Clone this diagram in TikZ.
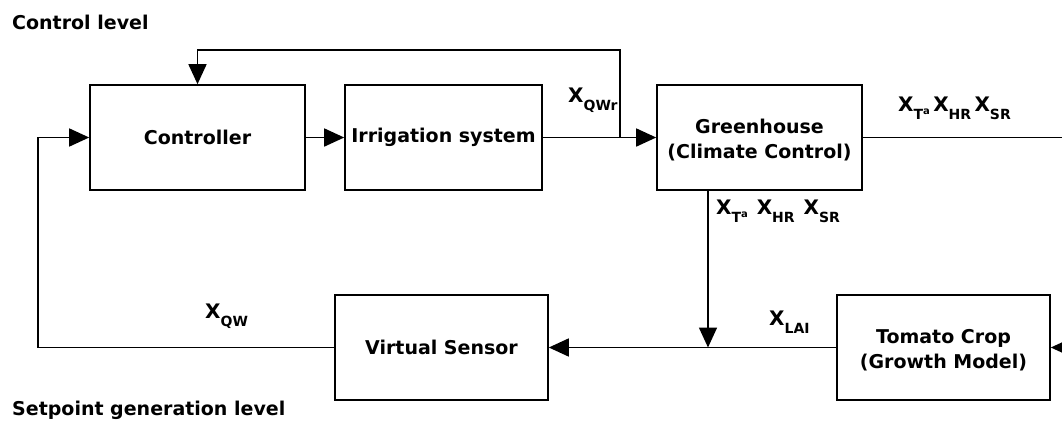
\documentclass[tikz,border=0pt]{standalone}
\usepackage{fontspec}
\setmainfont{DejaVu Sans}
\usetikzlibrary{arrows.meta}
\newcommand{\xvar}[1]{\textbf{X}\raisebox{-8pt}{\fontsize{14}{14}\selectfont\bfseries #1}}
\newcommand{\tavar}{\textbf{X}\raisebox{-8pt}{\fontsize{14}{14}\selectfont\bfseries T\raisebox{5pt}{\fontsize{10}{10}\selectfont a}}}
\tikzset{
  blockbox/.style={draw=black, line width=1.6pt, fill=white, align=center,
                   font=\fontsize{19}{25}\selectfont\bfseries, inner sep=0pt},
  sigline/.style={draw=black, line width=1.6pt},
  sigarrow/.style={sigline, -{Triangle[length=20pt,width=18pt]}},
  varlabel/.style={font=\fontsize{20}{20}\selectfont, anchor=west, inner sep=0pt},
  levellabel/.style={font=\fontsize{19}{19}\selectfont\bfseries, anchor=west, inner sep=0pt}
}
\begin{document}
\begin{tikzpicture}[x=1pt, y=-1pt]
  \useasboundingbox (0,0) rectangle (1062,423);

  \node[levellabel] (ctrllevel) at (12,22) {Control level};
  \node[levellabel] (setlevel) at (12,410) {Setpoint generation level};

  \node[blockbox, minimum width=215pt, minimum height=105pt] (ctrl) at (197.5,137.5) {Controller};
  \node[blockbox, minimum width=197pt, minimum height=105pt] (irr) at (443.5,137.5) {Irrigation system};
  \node[blockbox, minimum width=205pt, minimum height=105pt] (gh) at (759.5,137.5) {\\[-6pt]Greenhouse\\(Climate Control)};
  \node[blockbox, minimum width=213pt, minimum height=105pt] (vs) at (441.5,347.5) {Virtual Sensor};
  \node[blockbox, minimum width=213pt, minimum height=105pt] (tc) at (943.5,347.5) {\\[-6pt]Tomato Crop\\(Growth Model)};

  \coordinate (fbsplit) at (620,137.5);
  \coordinate (fbtop) at (620,50);
  \coordinate (fbleft) at (197.5,50);
  \coordinate (ghout) at (1062,137.5);
  \coordinate (tcin) at (1062,347.5);
  \coordinate (join) at (708,347.5);
  \coordinate (vsleft) at (38,347.5);
  \coordinate (ctrlleft) at (38,137.5);

  \draw[sigarrow] (ctrl.east) -- (irr.west);
  \draw[sigarrow] (irr.east) -- (gh.west);
  \draw[sigarrow] (fbsplit) -- (fbtop) -- (fbleft) -- (ctrl.north);
  \draw[sigline] (gh.east) -- (ghout);
  \draw[sigarrow] (tcin) -- (tc.east);
  \draw[sigarrow] (gh.south -| join) -- (join);
  \draw[sigarrow] (tc.west) -- (vs.east);
  \draw[sigarrow] (vs.west) -- (vsleft) -- (ctrlleft) -- (ctrl.west);

  \node[varlabel] (xqwr) at (568,100) {\xvar{QWr}};
  \node[varlabel] (xtop) at (898,108) {\tavar\,\xvar{HR}\,\xvar{SR}};
  \node[varlabel] (xmid) at (716,211) {\tavar\;\,\xvar{HR}\;\,\xvar{SR}};
  \node[varlabel] (xqw) at (205,316) {\xvar{QW}};
  \node[varlabel] (xlai) at (769,322) {\xvar{LAI}};
\end{tikzpicture}
\end{document}
